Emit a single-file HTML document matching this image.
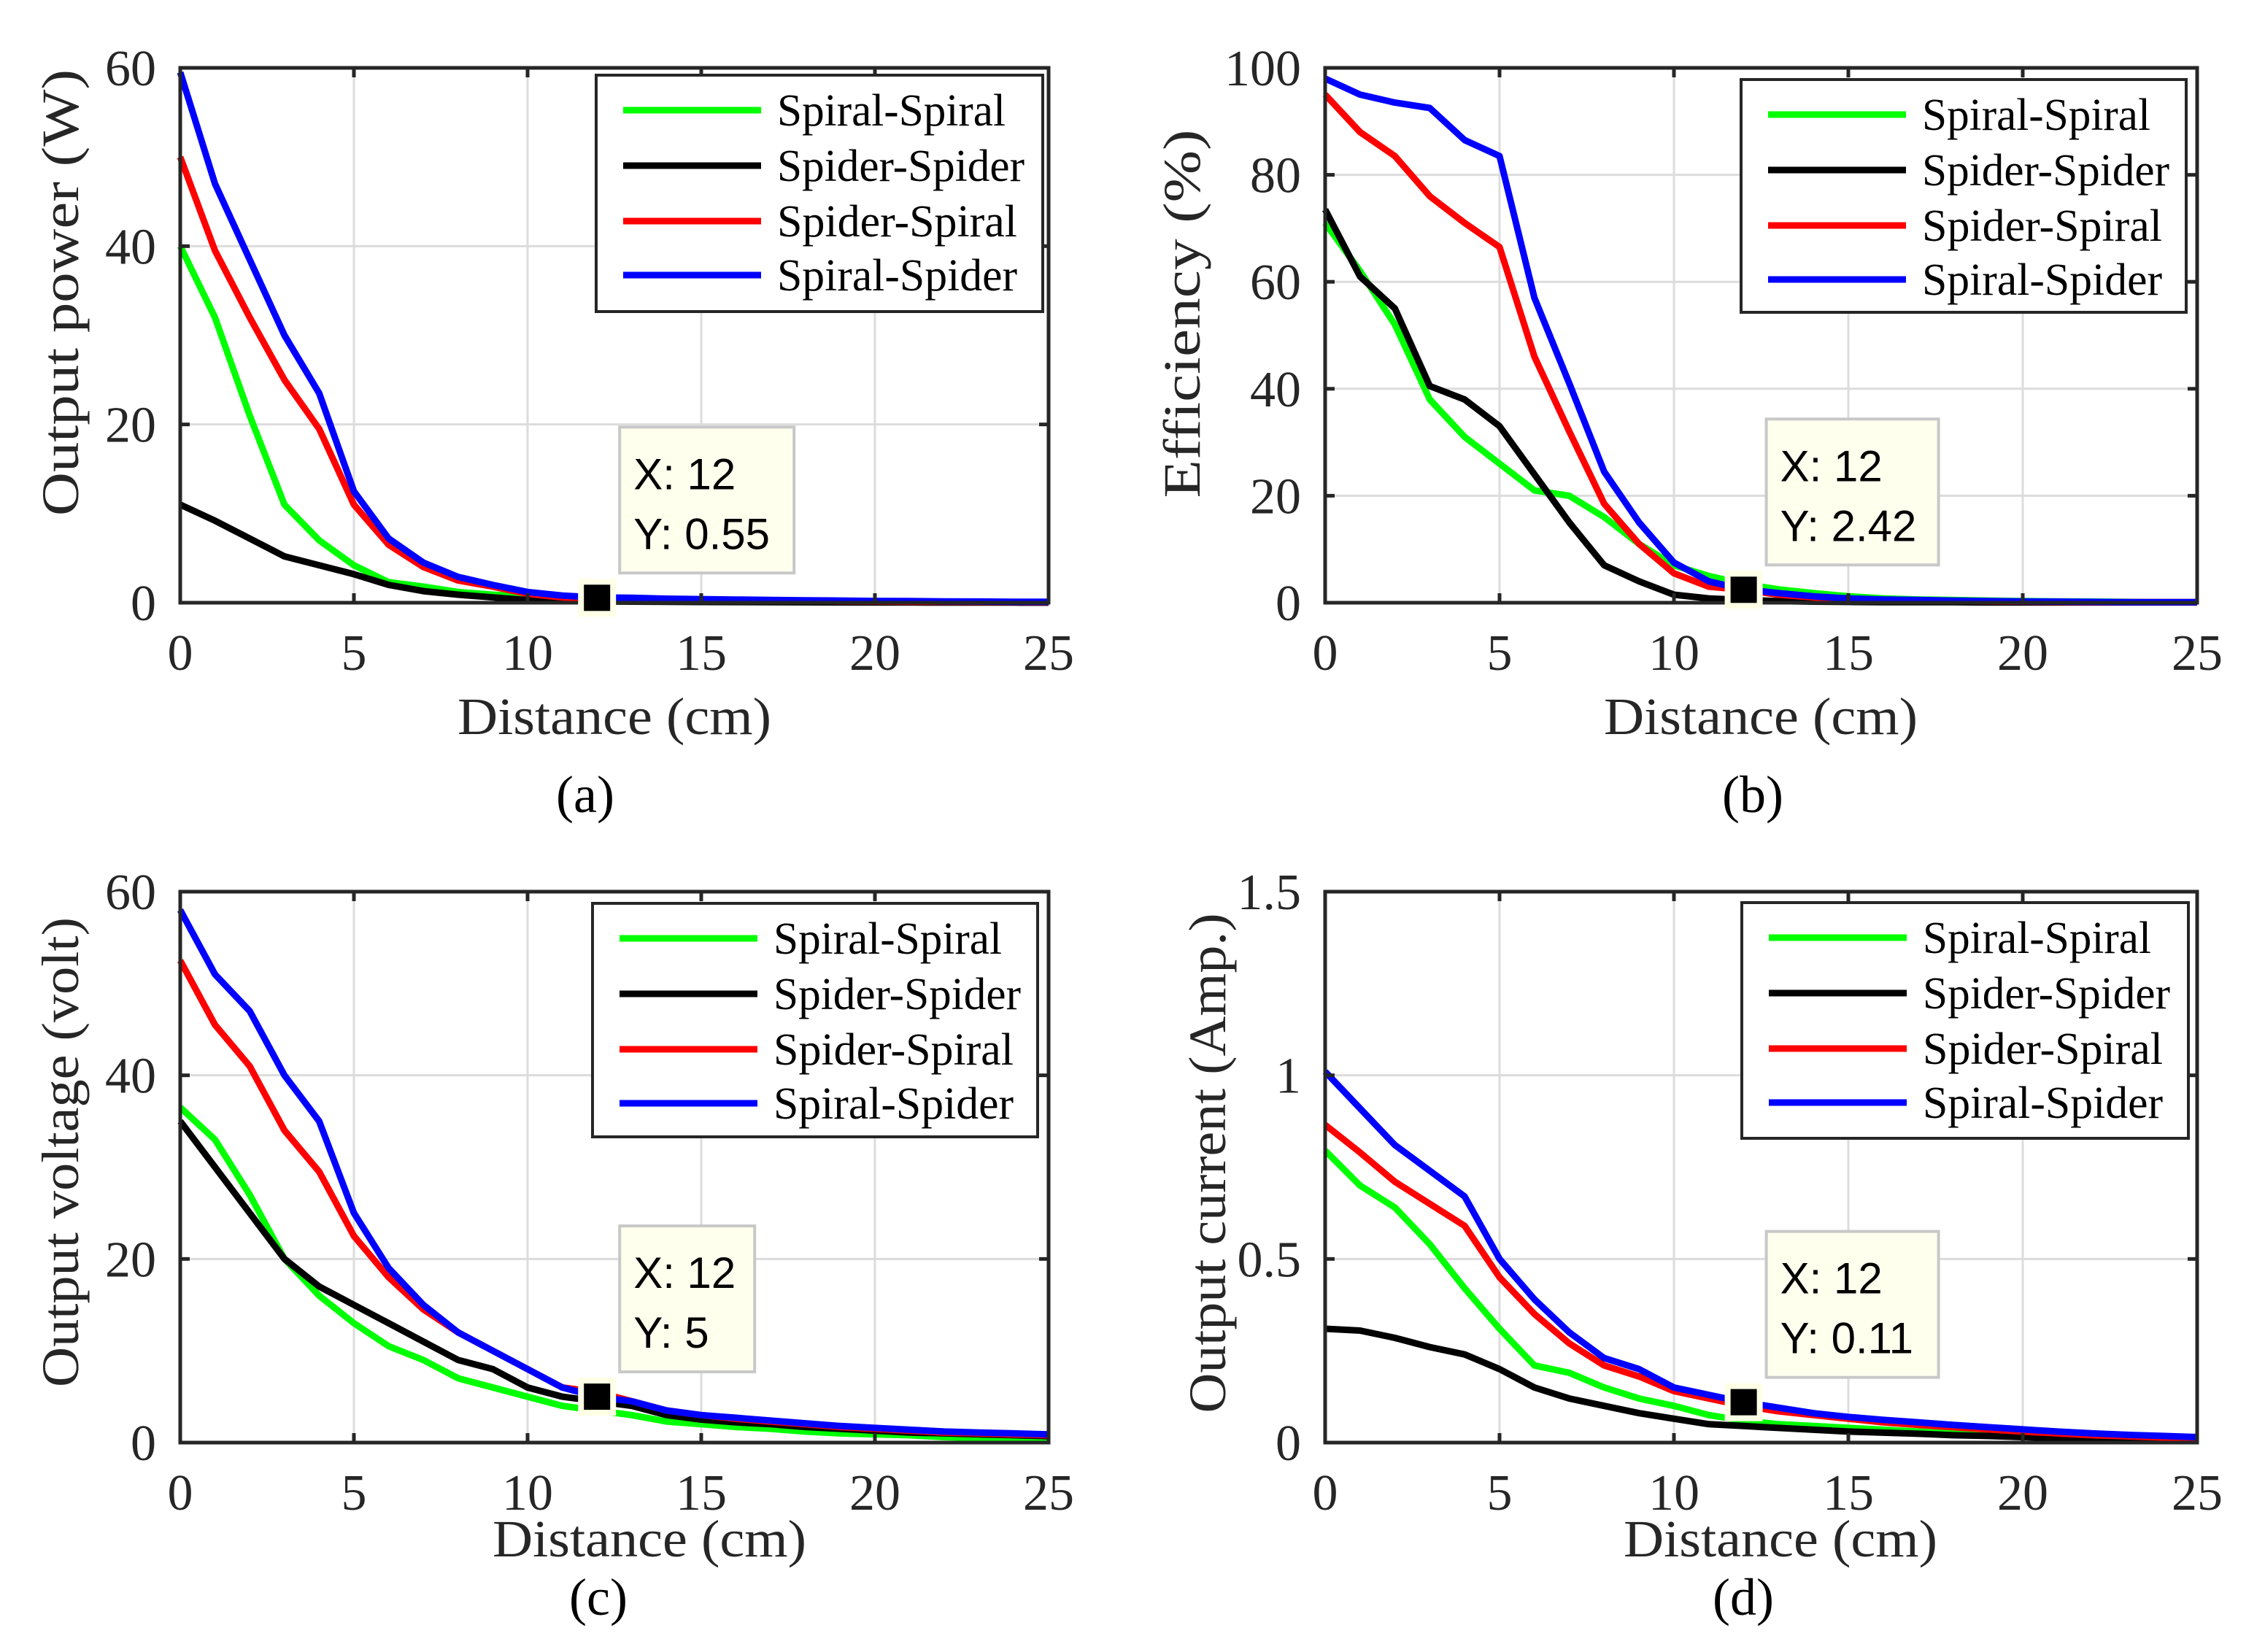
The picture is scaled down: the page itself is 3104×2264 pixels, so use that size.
<!DOCTYPE html>
<html><head><meta charset="utf-8"><style>
html,body{margin:0;padding:0;background:#fff;}
svg{display:block;}
</style></head><body>
<svg id="fig" xmlns="http://www.w3.org/2000/svg" width="3104" height="2264" viewBox="0 0 3104 2264"></svg>
<script>
const xVals = [0,1,2,3,4,5,6,7,8,9,10,11,12,13,14,15,16,17,18,19,20,21,22,23,24,25];
const seriesNames = ["Spiral-Spiral","Spider-Spider","Spider-Spiral","Spiral-Spider"];
const seriesColors = ["#00ff00","#000000","#ff0000","#0000ff"];

const powerSpiralSpiral = [40,32,21,11,7,4.2,2.3,1.8,1.2,0.9,0.7,0.6,0.55,0.45,0.35,0.3,0.25,0.2,0.17,0.14,0.12,0.1,0.08,0.07,0.06,0.05];
const powerSpiderSpider = [11,9.2,7.2,5.2,4.2,3.2,2,1.3,0.9,0.6,0.3,0.2,0.15,0.12,0.1,0.08,0.07,0.06,0.05,0.04,0.03,0.03,0.02,0.02,0.02,0.01];
const powerSpiderSpiral = [50,39.5,32,25,19.5,11,6.5,4,2.5,1.8,1,0.6,0.5,0.4,0.35,0.3,0.25,0.2,0.18,0.15,0.13,0.11,0.1,0.09,0.08,0.07];
const powerSpiralSpider = [59.5,47,38.5,30,23.5,12.5,7.2,4.5,2.9,2,1.2,0.8,0.6,0.55,0.45,0.4,0.35,0.3,0.27,0.24,0.2,0.18,0.15,0.13,0.11,0.1];

const effSpiralSpiral = [71,62,52,38,31,26,21,20,16,11,7,5,3.5,2.5,1.8,1.2,0.8,0.6,0.5,0.4,0.3,0.25,0.2,0.15,0.1,0.1];
const effSpiderSpider = [73.5,61,55,40.5,38,33,24,15,7,4,1.5,0.8,0.5,0.3,0.2,0.15,0.1,0.1,0.1,0.05,0.05,0.05,0.05,0.05,0.05,0.05];
const effSpiderSpiral = [95,88,83.5,76,71,66.5,46,32,18.5,11,5.5,3,2.42,1.5,1,0.7,0.5,0.4,0.3,0.25,0.2,0.15,0.1,0.1,0.1,0.1];
const effSpiralSpider = [98,95,93.5,92.5,86.5,83.5,57,41,24.5,15,7.5,4,2.5,1.8,1.2,0.8,0.6,0.5,0.4,0.3,0.25,0.2,0.15,0.1,0.1,0.1];

const voltSpiralSpiral = [36.5,33,27,20,16,13,10.5,9,7,6,5,4,3.5,3,2.3,2,1.7,1.5,1.2,1,0.9,0.8,0.6,0.5,0.4,0.3];
const voltSpiderSpider = [35,30,25,20,17,15,13,11,9,8,6,5,4.5,4,3,2.5,2.2,2,1.7,1.5,1.3,1.1,1,0.9,0.8,0.7];
const voltSpiderSpiral = [52.5,45.5,41,34,29.5,22.5,18,14.5,12,10,8,6,5.5,4.5,3.5,3,2.6,2.3,2,1.7,1.5,1.3,1.1,1,0.9,0.8];
const voltSpiralSpider = [58,51,47,40,35,25,19,15,12,10,8,6,5,4.5,3.5,3,2.7,2.4,2.1,1.8,1.6,1.4,1.2,1.1,1,0.9];

const currSpiralSpiral = [0.795,0.7,0.64,0.54,0.42,0.31,0.21,0.19,0.15,0.12,0.1,0.075,0.06,0.05,0.045,0.04,0.035,0.03,0.025,0.02,0.018,0.015,0.012,0.01,0.008,0.005];
const currSpiderSpider = [0.31,0.305,0.285,0.26,0.24,0.2,0.15,0.12,0.1,0.08,0.065,0.05,0.045,0.04,0.035,0.03,0.027,0.024,0.02,0.018,0.015,0.012,0.01,0.008,0.006,0.005];
const currSpiderSpiral = [0.865,0.79,0.71,0.65,0.59,0.45,0.35,0.27,0.21,0.18,0.14,0.12,0.1,0.085,0.075,0.065,0.055,0.048,0.042,0.036,0.03,0.025,0.02,0.017,0.014,0.012];
const currSpiralSpider = [1.01,0.91,0.81,0.74,0.67,0.5,0.39,0.3,0.23,0.2,0.15,0.13,0.11,0.095,0.08,0.07,0.062,0.055,0.048,0.042,0.036,0.03,0.025,0.021,0.018,0.015];

const xTicks = [0,5,10,15,20,25];
const yTicksPower = [0,20,40,60];
const yTicksEff = [0,20,40,60,80,100];
const yTicksVolt = [0,20,40,60];
const yTicksCurr = [0,0.5,1,1.5];
const yTickLabelsCurr = ["0","0.5","1","1.5"];
const tipX = [12,12,12,12];
const tipY = [0.55,2.42,5,0.11];

const NS="http://www.w3.org/2000/svg";
const svg=document.getElementById('fig');
function mk(tag,attrs,parent){const e=document.createElementNS(NS,tag);for(const k in attrs)e.setAttribute(k,attrs[k]);(parent||svg).appendChild(e);return e;}

const panels=[
 {key:'a',x0:247,x1:1437,yt:93,yb:826,ymax:60,yt_:yTicksPower,ylab:yTicksPower.map(String),series:[powerSpiralSpiral,powerSpiderSpider,powerSpiderSpiral,powerSpiralSpider],ytitle:"Output power (W)",ytx:83,yty:401,ytlen:612,xlx:842,xly:1006,sub:"(a)",subx:802,suby:1113,leg:[817,103,1429,427],tipW:239,tip:0},
 {key:'b',x0:1816,x1:3011,yt:93,yb:826,ymax:100,yt_:yTicksEff,ylab:yTicksEff.map(String),series:[effSpiralSpiral,effSpiderSpider,effSpiderSpiral,effSpiralSpider],ytitle:"Efficiency (%)",ytx:1620,yty:430,ytlen:505,xlx:2413,xly:1006,sub:"(b)",subx:2402,suby:1113,leg:[2386,109,2996,428],tipW:236,tip:1},
 {key:'c',x0:247,x1:1437,yt:1222,yb:1977,ymax:60,yt_:yTicksVolt,ylab:yTicksVolt.map(String),series:[voltSpiralSpiral,voltSpiderSpider,voltSpiderSpiral,voltSpiralSpider],ytitle:"Output voltage (volt)",ytx:83,yty:1579,ytlen:644,xlx:890,xly:2133,sub:"(c)",subx:820,suby:2213,leg:[812,1238,1422,1558],tipW:185,tip:2},
 {key:'d',x0:1816,x1:3011,yt:1222,yb:1977,ymax:1.5,yt_:yTicksCurr,ylab:yTickLabelsCurr,series:[currSpiralSpiral,currSpiderSpider,currSpiderSpiral,currSpiralSpider],ytitle:"Output current (Amp.)",ytx:1655,yty:1594,ytlen:685,xlx:2440,xly:2133,sub:"(d)",subx:2389,suby:2213,leg:[2387,1237,2999,1560],tipW:236,tip:3}
];
const serif='"Liberation Serif", "Times New Roman", serif';
const sans='"Liberation Sans", Arial, sans-serif';

panels.forEach(p=>{
 const sx=v=>p.x0+(v-0)/25*(p.x1-p.x0);
 const sy=v=>p.yb-v/p.ymax*(p.yb-p.yt);
 const g=mk('g',{});
 
 
 // grid
 xTicks.forEach(t=>{ if(t>0&&t<25){const l=mk('line',{x1:sx(t),x2:sx(t),y1:p.yt,y2:p.yb,stroke:'#dcdcdc','stroke-width':3},g);
  }});
 p.yt_.forEach(t=>{ if(t>0&&t<p.ymax){const l=mk('line',{x1:p.x0,x2:p.x1,y1:sy(t),y2:sy(t),stroke:'#dcdcdc','stroke-width':3},g);
  }});
 // series
 p.series.forEach((s,i)=>{
  const pts=s.map((v,j)=>sx(xVals[j]).toFixed(1)+','+sy(v).toFixed(1)).join(' ');
  const pl=mk('polyline',{points:pts,fill:'none',stroke:seriesColors[i],'stroke-width':9,'stroke-linejoin':'round'},g);
  
  
 });
 // axes box
 const ax=mk('rect',{x:p.x0,y:p.yt,width:p.x1-p.x0,height:p.yb-p.yt,fill:'none',stroke:'#262626','stroke-width':5},g);
 
 // ticks
 xTicks.forEach(t=>{
  mk('line',{x1:sx(t),x2:sx(t),y1:p.yb,y2:p.yb-13,stroke:'#262626','stroke-width':5},g);
  mk('line',{x1:sx(t),x2:sx(t),y1:p.yt,y2:p.yt+13,stroke:'#262626','stroke-width':5},g);
  const tx=mk('text',{x:sx(t),y:p.yb+92,'font-family':serif,'font-size':70,fill:'#262626','text-anchor':'middle'},g);
  tx.textContent=String(t);
  
 });
 p.yt_.forEach((t,i)=>{
  mk('line',{x1:p.x0,x2:p.x0+13,y1:sy(t),y2:sy(t),stroke:'#262626','stroke-width':5},g);
  mk('line',{x1:p.x1,x2:p.x1-13,y1:sy(t),y2:sy(t),stroke:'#262626','stroke-width':5},g);
  const tx=mk('text',{x:p.x0-33,y:sy(t)+24,'font-family':serif,'font-size':70,fill:'#262626','text-anchor':'end'},g);
  tx.textContent=p.ylab[i];
  
 });
 // labels
 const xl=mk('text',{x:p.xlx,y:p.xly,'font-family':serif,'font-size':72,fill:'#262626','text-anchor':'middle',textLength:430,lengthAdjust:'spacingAndGlyphs'},g);
 xl.textContent="Distance (cm)";
 
 const yl=mk('text',{x:0,y:0,'font-family':serif,'font-size':72,fill:'#262626','text-anchor':'middle',textLength:p.ytlen,lengthAdjust:'spacingAndGlyphs',transform:`translate(${p.ytx+24},${p.yty}) rotate(-90)`},g);
 yl.textContent=p.ytitle;
 
 const sb=mk('text',{x:p.subx,y:p.suby,'font-family':serif,'font-size':72,fill:'#000','text-anchor':'middle'},g);
 sb.textContent=p.sub;
 
 // legend
 const [lx0,ly0,lx1,ly1]=p.leg;
 const lg=mk('g',{},g);
 
 mk('rect',{x:lx0,y:ly0,width:lx1-lx0,height:ly1-ly0,fill:'#fff',stroke:'#262626','stroke-width':4},lg);
 const rows=[48,124,200,274];
 const lens=[313,339,329,329];
 seriesNames.forEach((n,i)=>{
  const ey=ly0+rows[i];
  const e=mk('g',{},lg);
  
  mk('line',{x1:lx0+37,x2:lx0+226,y1:ey,y2:ey,stroke:seriesColors[i],'stroke-width':9},e);
  const t=mk('text',{x:lx0+248,y:ey+21,'font-family':serif,'font-size':62,fill:'#000',textLength:lens[i],lengthAdjust:'spacingAndGlyphs'},e);
  t.textContent=n;
 });
 // datatip
 const mxv=tipX[p.tip], myv=tipY[p.tip];
 const mx=sx(mxv), my=sy(myv);
 const mkr=mk('rect',{x:mx-22,y:my-22,width:44,height:44,fill:'#000',stroke:'#ffffe6','stroke-width':8},g);
 
 const bx=mx+31, bb=my-34, bt=bb-200;
 const tg=mk('g',{},g);
 
 mk('rect',{x:bx,y:bt,width:p.tipW,height:200,fill:'#ffffee',stroke:'#c8c8c8','stroke-width':4},tg);
 const t1=mk('text',{x:bx+19,y:bt+85,'font-family':sans,'font-size':60,fill:'#000'},tg);
 t1.textContent="X: "+mxv;
 const t2=mk('text',{x:bx+19,y:bt+167,'font-family':sans,'font-size':60,fill:'#000'},tg);
 t2.textContent="Y: "+myv;
});
</script>
</body></html>
